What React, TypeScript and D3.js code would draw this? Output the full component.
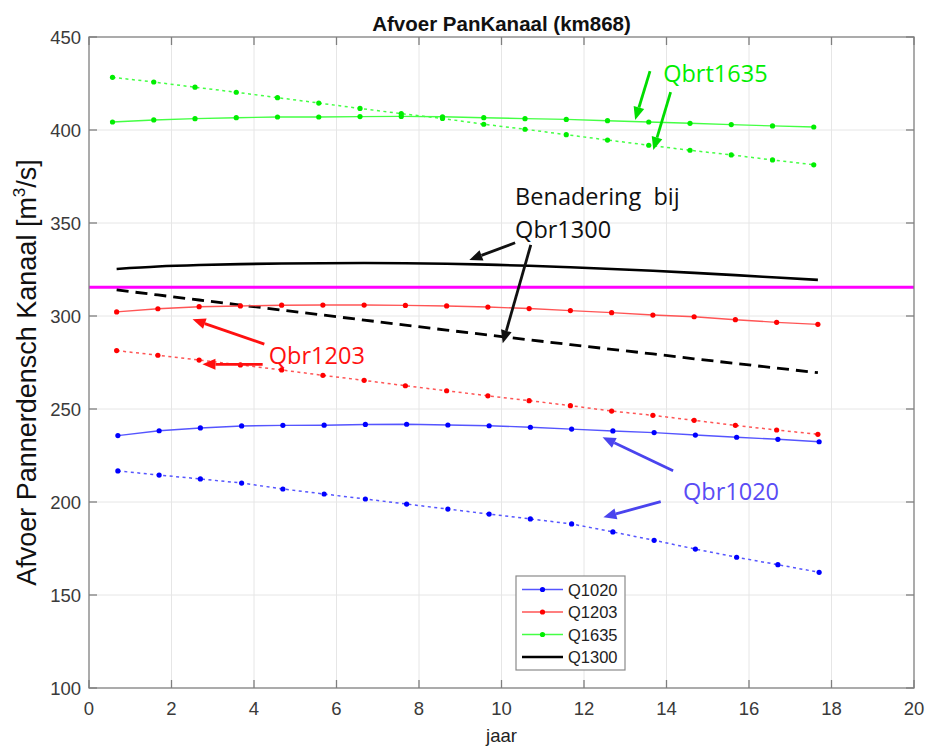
import React from "react";
import * as d3 from "d3";

// Years of each computed point (the runs are offset slightly per discharge)
const yearsQ1020 = [0.7, 1.7, 2.7, 3.7, 4.7, 5.7, 6.7, 7.7, 8.7, 9.7, 10.7, 11.7, 12.7, 13.7, 14.7, 15.7, 16.7, 17.7];
const yearsQ1203 = [0.67, 1.67, 2.67, 3.67, 4.67, 5.67, 6.67, 7.67, 8.67, 9.67, 10.67, 11.67, 12.67, 13.67, 14.67, 15.67, 16.67, 17.67];
const yearsQ1635 = [0.57, 1.57, 2.57, 3.57, 4.57, 5.57, 6.57, 7.57, 8.57, 9.57, 10.57, 11.57, 12.57, 13.57, 14.57, 15.57, 16.57, 17.57];
const yearsQ1300 = [0.67, 1.67, 2.67, 3.67, 4.67, 5.67, 6.67, 7.67, 8.67, 9.67, 10.67, 11.67, 12.67, 13.67, 14.67, 15.67, 16.67, 17.67];

// Discharge Pannerdensch Kanaal [m3/s]; "base" = solid runs, "trend" = dotted runs
const q1020Base = [235.7, 238.3, 239.8, 240.9, 241.2, 241.3, 241.7, 241.8, 241.4, 241.0, 240.2, 239.2, 238.2, 237.3, 236.0, 234.8, 233.7, 232.4];
const q1020Trend = [216.7, 214.5, 212.4, 210.2, 207.0, 204.3, 201.6, 198.9, 196.2, 193.5, 190.9, 188.2, 183.9, 179.4, 174.7, 170.3, 166.3, 162.2];
const q1203Base = [302.2, 303.9, 305.0, 305.4, 305.8, 305.9, 305.9, 305.7, 305.4, 304.8, 304.0, 302.9, 301.8, 300.5, 299.6, 298.0, 296.6, 295.5];
const q1203Trend = [281.4, 278.9, 276.3, 273.7, 271.0, 268.1, 265.4, 262.5, 259.8, 257.1, 254.5, 251.8, 248.9, 246.6, 243.9, 241.2, 238.7, 236.4];
const q1635Base = [404.3, 405.4, 406.1, 406.6, 407.0, 407.0, 407.2, 407.3, 407.1, 406.6, 406.1, 405.7, 405.0, 404.3, 403.6, 402.9, 402.2, 401.6];
const q1635Trend = [428.3, 425.8, 423.0, 420.3, 417.4, 414.5, 411.6, 408.8, 406.2, 403.1, 400.4, 397.5, 394.6, 391.8, 389.1, 386.6, 383.9, 381.3];
const q1300Base = [325.3, 326.6, 327.4, 327.9, 328.2, 328.4, 328.5, 328.4, 328.1, 327.6, 327.0, 326.2, 325.3, 324.3, 323.2, 322.0, 320.7, 319.4];
const q1300Trend = [314.0, 311.3, 308.6, 305.9, 303.2, 300.5, 297.8, 295.1, 292.4, 289.8, 287.2, 284.6, 282.1, 279.6, 277.0, 274.5, 272.0, 269.5];

// Reference discharge (horizontal line)
const referenceQ = 315.5;

const xTicks = [0, 2, 4, 6, 8, 10, 12, 14, 16, 18, 20];
const yTicks = [100, 150, 200, 250, 300, 350, 400, 450];

const legendLabels = ["Q1020", "Q1203", "Q1635", "Q1300"];

// Annotation labels: [text, year, discharge, colour]
const noteLabels: [string, number, number, string][] = [
  ["Qbrt1635", 13.92, 425.8, "#00ee00"],
  ["Benadering  bij", 10.33, 359.7, "#111111"],
  ["Qbr1300", 10.33, 341.9, "#111111"],
  ["Qbr1203", 4.36, 274.2, "#ff1010"],
  ["Qbr1020", 14.4, 201.1, "#5a4cf5"],
];

// Annotation arrows: [fromYear, fromQ, toYear, toQ, colour]
const noteArrows: [number, number, number, number, string][] = [
  [13.6, 431.7, 13.24, 405.4, "#00dd00"],
  [14.1, 420.4, 13.68, 389.2, "#00dd00"],
  [10.33, 339.4, 9.22, 330.1, "#111111"],
  [10.71, 338.2, 10.03, 285.3, "#111111"],
  [4.25, 284.9, 2.51, 298.2, "#ff1010"],
  [4.21, 274.0, 2.75, 274.0, "#ff1010"],
  [14.16, 216.8, 12.45, 234.8, "#4a44ee"],
  [13.86, 200.2, 12.47, 191.8, "#4a44ee"],
];

const W = 926;
const H = 747;
const left = 89;
const top = 37;
const right = 914;
const bottom = 688;

const axisFont = "'Liberation Sans', Arial, sans-serif";
const noteFont = "'Open Sans', 'Noto Sans', sans-serif";

export default function App() {
  const x = d3.scaleLinear().domain([0, 20]).range([left, right]);
  const y = d3.scaleLinear().domain([100, 450]).range([bottom, top]);

  const line = (xs: number[], ys: number[]) =>
    d3
      .line<number>()
      .x((_, i) => x(xs[i]))
      .y((v) => y(v))(ys) || "";

  const smooth = (xs: number[], ys: number[]) =>
    d3
      .line<number>()
      .x((_, i) => x(xs[i]))
      .y((v) => y(v))
      .curve(d3.curveMonotoneX)(ys) || "";

  const markerSeries = [
    { xs: yearsQ1020, base: q1020Base, trend: q1020Trend, line: "#5555ff", dot: "#0000ff" },
    { xs: yearsQ1203, base: q1203Base, trend: q1203Trend, line: "#ff5555", dot: "#ff0000" },
    { xs: yearsQ1635, base: q1635Base, trend: q1635Trend, line: "#44ff44", dot: "#00ee00" },
  ];

  const arrowHead = (x1: number, y1: number, x2: number, y2: number) => {
    const ang = Math.atan2(y2 - y1, x2 - x1);
    const len = 13;
    const half = 5.5;
    const bx = x2 - len * Math.cos(ang);
    const by = y2 - len * Math.sin(ang);
    const px = -Math.sin(ang) * half;
    const py = Math.cos(ang) * half;
    return {
      path: `M${x2},${y2}L${bx + px},${by + py}L${bx - px},${by - py}Z`,
      bx,
      by,
    };
  };

  const legendX = 516;
  const legendY = 576;
  const legendW = 109;
  const legendH = 94;
  const legendRow = 22.5;

  return (
    <svg width={W} height={H} style={{ display: "block", position: "absolute", left: 0, top: 0, background: "#fff" }}>
      <rect x={0} y={0} width={W} height={H} fill="#fff" />

      {/* grid */}
      <g stroke="#e6e6e6" strokeWidth={1}>
        {xTicks.slice(1, -1).map((t) => (
          <line key={"gx" + t} x1={x(t)} x2={x(t)} y1={top} y2={bottom} />
        ))}
        {yTicks.slice(1, -1).map((t) => (
          <line key={"gy" + t} x1={left} x2={right} y1={y(t)} y2={y(t)} />
        ))}
      </g>

      {/* reference discharge */}
      <line x1={left} x2={right} y1={y(referenceQ)} y2={y(referenceQ)} stroke="#ff00ff" strokeWidth={3} />

      {/* Q1300 approximation */}
      <path d={smooth(yearsQ1300, q1300Base)} fill="none" stroke="#000" strokeWidth={2.6} />
      <path d={line(yearsQ1300, q1300Trend)} fill="none" stroke="#000" strokeWidth={2.8} strokeDasharray="12 7" />

      {/* computed runs */}
      {markerSeries.map((s, k) => (
        <g key={"s" + k}>
          <path d={line(s.xs, s.base)} fill="none" stroke={s.line} strokeWidth={1.4} />
          <path d={line(s.xs, s.trend)} fill="none" stroke={s.line} strokeWidth={1.5} strokeDasharray="3 3.5" />
          {s.base.map((v, i) => (
            <circle key={"b" + i} cx={x(s.xs[i])} cy={y(v)} r={2.6} fill={s.dot} />
          ))}
          {s.trend.map((v, i) => (
            <circle key={"t" + i} cx={x(s.xs[i])} cy={y(v)} r={2.6} fill={s.dot} />
          ))}
        </g>
      ))}

      {/* axes box and ticks */}
      <g stroke="#7f7f7f" strokeWidth={1.3} fill="none">
        <rect x={left} y={top} width={right - left} height={bottom - top} />
        {xTicks.map((t) => (
          <g key={"tx" + t}>
            <line x1={x(t)} x2={x(t)} y1={bottom} y2={bottom - 8} />
            <line x1={x(t)} x2={x(t)} y1={top} y2={top + 8} />
          </g>
        ))}
        {yTicks.map((t) => (
          <g key={"ty" + t}>
            <line x1={left} x2={left + 8} y1={y(t)} y2={y(t)} />
            <line x1={right} x2={right - 8} y1={y(t)} y2={y(t)} />
          </g>
        ))}
      </g>

      {/* tick labels */}
      <g fontFamily={axisFont} fontSize={18.5} fill="#3a3a3a">
        {xTicks.map((t) => (
          <text key={"lx" + t} x={x(t)} y={bottom + 27} textAnchor="middle">
            {t}
          </text>
        ))}
        {yTicks.map((t) => (
          <text key={"ly" + t} x={left - 8} y={y(t) + 6.5} textAnchor="end">
            {t}
          </text>
        ))}
      </g>

      {/* titles */}
      <text x={(left + right) / 2} y={31} textAnchor="middle" fontFamily={axisFont} fontWeight="bold" fontSize={20.5} fill="#111">
        Afvoer PanKanaal (km868)
      </text>
      <text x={(left + right) / 2} y={742} textAnchor="middle" fontFamily={axisFont} fontSize={18.5} fill="#222">
        jaar
      </text>
      <text
        transform={`translate(36,${(top + bottom) / 2 + 10}) rotate(-90)`}
        textAnchor="middle"
        fontFamily={axisFont}
        fontSize={27}
        fill="#111"
      >
        Afvoer Pannerdensch Kanaal [m
        <tspan fontSize={17} dy={-11}>
          3
        </tspan>
        <tspan dy={11}>/s]</tspan>
      </text>

      {/* annotations */}
      {noteArrows.map(([fx, fy, tx, ty, c], i) => {
        const x1 = x(fx);
        const y1 = y(fy);
        const x2 = x(tx);
        const y2 = y(ty);
        const h = arrowHead(x1, y1, x2, y2);
        return (
          <g key={"a" + i}>
            <line x1={x1} y1={y1} x2={h.bx} y2={h.by} stroke={c} strokeWidth={2.8} />
            <path d={h.path} fill={c} />
          </g>
        );
      })}
      {noteLabels.map(([t, nx, ny, c], i) => (
        <text
          key={"n" + i}
          x={x(nx)}
          y={y(ny)}
          fontFamily={noteFont}
          fontSize={23.5}
          fill={c}
          style={{ whiteSpace: "pre" }}
        >
          {t}
        </text>
      ))}

      {/* legend */}
      <rect x={legendX} y={legendY} width={legendW} height={legendH} fill="#fff" stroke="#8a8a8a" strokeWidth={1.2} />
      {legendLabels.map((lab, i) => {
        const cy = legendY + 13.5 + i * legendRow;
        const s = markerSeries[i];
        return (
          <g key={"lg" + i}>
            {s ? (
              <>
                <line x1={legendX + 6} x2={legendX + 47} y1={cy} y2={cy} stroke={s.line} strokeWidth={1.4} />
                <circle cx={legendX + 26.5} cy={cy} r={2.6} fill={s.dot} />
              </>
            ) : (
              <line x1={legendX + 6} x2={legendX + 47} y1={cy} y2={cy} stroke="#000" strokeWidth={2.6} />
            )}
            <text x={legendX + 52} y={cy + 6} fontFamily={axisFont} fontSize={16.5} fill="#222">
              {lab}
            </text>
          </g>
        );
      })}
    </svg>
  );
}
